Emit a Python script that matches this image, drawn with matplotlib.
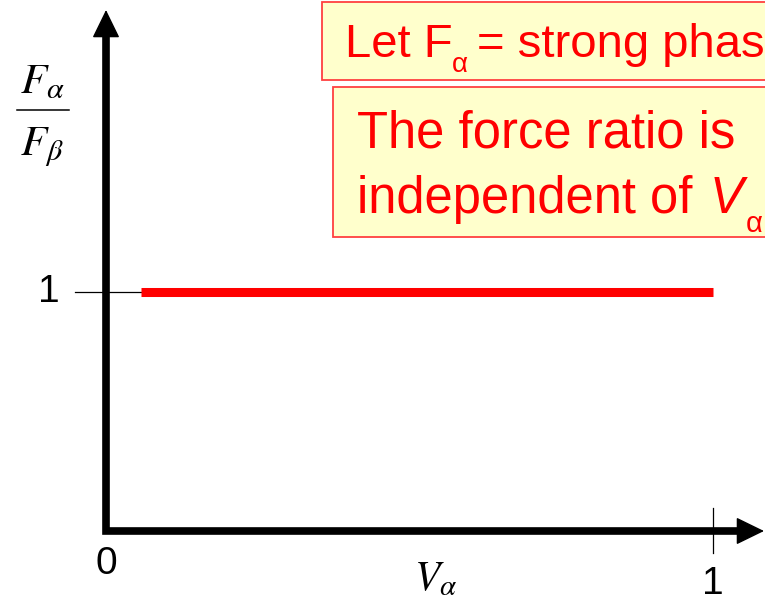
import matplotlib.pyplot as plt
from matplotlib.patches import Rectangle

plt.rcParams['font.family'] = ['Liberation Sans', 'DejaVu Sans']

# force ratio F_alpha / F_beta against volume fraction V_alpha
v_alpha = [0.058, 1.0]
force_ratio = [1.0, 1.0]
x_ticks = [0, 1]
y_ticks = [1]

W, H = 765, 600
X0, Y0 = 106, 531          # pixel position of the origin
SX, SY = 607, 239          # pixels per unit along x and y


def dx(px):
    return (px - X0) / SX


def dy(py):
    return (Y0 - py) / SY


fig = plt.figure(figsize=(W / 100, H / 100), dpi=100)
ax = fig.add_axes([0, 0, 1, 1])
ax.set_xlim(dx(0), dx(W))
ax.set_ylim(dy(H), dy(0))
ax.axis('off')

# axes drawn as thick arrows
x_tip, y_tip = dx(764), dy(10)
ax.plot([0, 0, x_tip - 0.03], [y_tip - 0.08, 0, 0], color='black', lw=5.5,
        solid_joinstyle='miter', solid_capstyle='butt')
for tip, start in [((0, y_tip), (0, y_tip - 0.2)), ((x_tip, 0), (x_tip - 0.1, 0))]:
    ax.annotate('', xy=tip, xytext=start,
                arrowprops=dict(arrowstyle='-|>,head_length=0.45,head_width=0.22',
                                color='black', lw=1, mutation_scale=40,
                                shrinkA=0, shrinkB=0))

# tick marks
ax.plot([dx(75), v_alpha[0]], [y_ticks[0]] * 2, color='black', lw=0.9)
ax.plot([x_ticks[1]] * 2, [dy(508), dy(553)], color='black', lw=0.9)

# the ratio line
ax.plot(v_alpha, force_ratio, color='#ff0000', lw=6.5, solid_capstyle='butt')

ax.text(dx(49), y_ticks[0], str(y_ticks[0]), fontsize=28, ha='center', va='center')
ax.text(x_ticks[0], dy(546), str(x_ticks[0]), fontsize=28, ha='center', va='top')
ax.text(x_ticks[1], dy(566), str(x_ticks[1]), fontsize=28, ha='center', va='top')

# axis labels in serif italic
ax.text(dx(414), dy(590), r'$V_\alpha$', fontsize=30, ha='left', va='baseline',
        math_fontfamily='stix')
ax.text(dx(42), dy(93), r'$F_\alpha$', fontsize=31, ha='center', va='baseline',
        math_fontfamily='stix')
ax.text(dx(42), dy(155), r'$F_\beta$', fontsize=31, ha='center', va='baseline',
        math_fontfamily='stix')
ax.plot([dx(17), dx(69)], [dy(110)] * 2, color='black', lw=1.1)


# callout boxes
def box(x0, y0, x1, y1):
    fig.patches.append(Rectangle((x0 / W, 1 - y1 / H), (x1 - x0) / W, (y1 - y0) / H,
                                 transform=fig.transFigure, facecolor='#ffffcc',
                                 edgecolor='#ff4040', lw=1.3, zorder=0))


def note(px, py, s, size, **kw):
    fig.text(px / W, 1 - py / H, s, fontsize=size, color='#ff0000',
             va='baseline', **kw)


box(322, 2, 820, 80)
box(333, 87, 820, 237)

note(345, 57, 'Let F', 34)
note(452, 72, 'α', 20)
note(477, 57, '= strong phase', 34)

note(357, 148, 'The force ratio is', 36.5)
note(357, 213, 'independent of', 36.5)
note(710, 213, 'V', 36.5, style='italic')
note(746, 232, 'α', 21)

fig.savefig('out.png', dpi=100)
